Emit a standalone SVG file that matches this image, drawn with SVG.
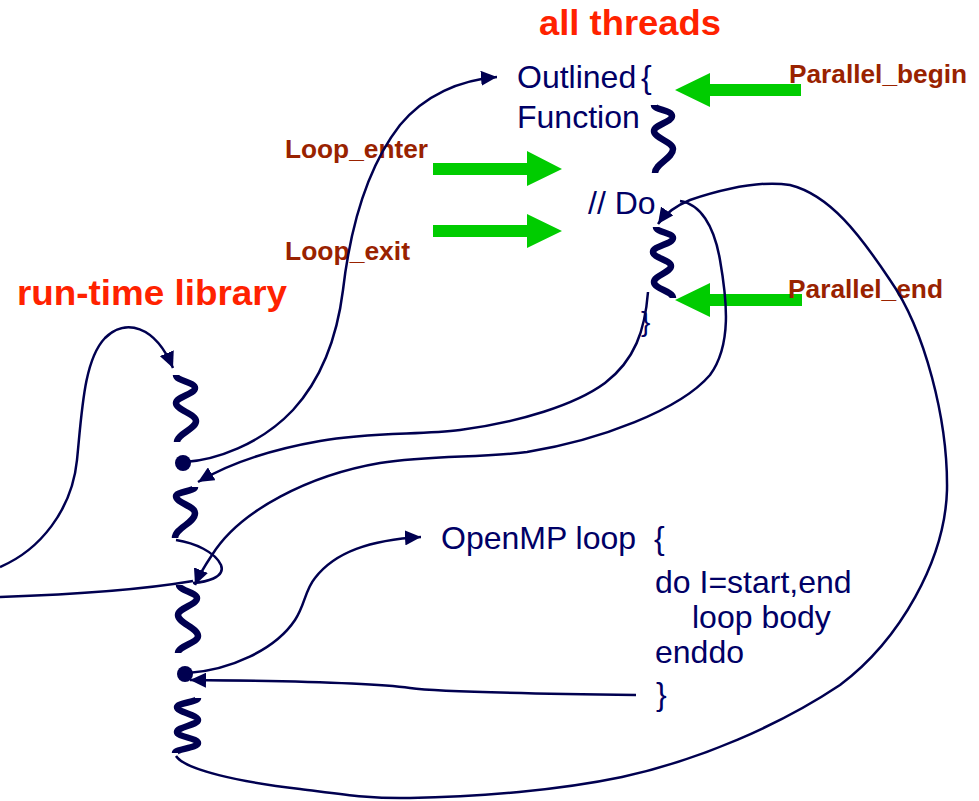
<svg xmlns="http://www.w3.org/2000/svg" width="979" height="801" viewBox="0 0 979 801">
<defs>
<style>
.code{font-family:"Liberation Sans",Arial,sans-serif;font-size:32px;fill:#000066}
.red{font-family:"Liberation Sans",Arial,sans-serif;font-weight:bold;font-size:35px;fill:#ff2200}
.evt{font-family:"Liberation Sans",Arial,sans-serif;font-weight:bold;font-size:26px;fill:#992200}
.sq{fill:none;stroke:#000050;stroke-width:6.5;stroke-linecap:butt;stroke-linejoin:round}
.cn{fill:none;stroke:#000050;stroke-width:2.5}
.ar{marker-end:url(#ah)}
.grn{fill:#00cc00}
.dot{fill:#000050}
</style>
<marker id="ah" markerUnits="userSpaceOnUse" markerWidth="17" markerHeight="15" refX="16" refY="7.5" orient="auto">
<path d="M0,0 L16,7.5 L0,15 z" fill="#000050"/>
</marker>
</defs>
<rect width="979" height="801" fill="#ffffff"/>

<g id="title-all-threads"><text class="red" x="539" y="35" textLength="182" lengthAdjust="spacingAndGlyphs">all threads</text></g>
<g id="title-runtime-library"><text class="red" x="17" y="305" textLength="270" lengthAdjust="spacingAndGlyphs">run-time library</text></g>

<g id="event-arrows">
<polygon class="grn" points="801,84 710,84 710,73 675,90 710,107 710,96 801,96"/>
<polygon class="grn" points="802,294 710,294 710,283 675,300 710,317 710,306 802,306"/>
<polygon class="grn" points="433,163 527,163 527,151 562,169 527,186 527,175 433,175"/>
<polygon class="grn" points="433,225 527,225 527,214 562,231 527,248 527,237 433,237"/>
</g>

<g id="label-parallel-begin"><text class="evt" x="789" y="83" textLength="178" lengthAdjust="spacingAndGlyphs">Parallel_begin</text></g>
<g id="label-parallel-end"><text class="evt" x="788" y="298" textLength="155" lengthAdjust="spacingAndGlyphs">Parallel_end</text></g>
<g id="label-loop-enter"><text class="evt" x="285" y="158" textLength="143" lengthAdjust="spacingAndGlyphs">Loop_enter</text></g>
<g id="label-loop-exit"><text class="evt" x="285" y="260" textLength="125" lengthAdjust="spacingAndGlyphs">Loop_exit</text></g>

<g id="outlined-function">
<text class="code" x="517" y="88">Outlined</text>
<text class="code" x="641" y="88">{</text>
<text class="code" x="517" y="128">Function</text>
<path class="sq" d="M654,105 C654,110 672,110 672,116 C672,122 654,125 654,131 C654,138 673,142 673,149 C673,158 655,164 655,173"/>
</g>

<g id="do-block">
<text class="code" x="588" y="214">// Do</text>
<path class="sq" d="M656,227 C656,232 673,233 673,238 C673,244 653,246 653,252 C653,258 671,260 671,266 C671,272 654,276 654,282 C654,289 673,291 673,298"/>
<text x="641" y="331" style="font-family:'Liberation Sans',Arial,sans-serif;font-size:28px;fill:#000066">}</text>
</g>

<g id="openmp-loop">
<text class="code" x="441" y="549">OpenMP loop</text>
<text class="code" x="654" y="549">{</text>
<text class="code" x="655" y="593">do I=start,end</text>
<text class="code" x="692" y="628">loop body</text>
<text class="code" x="655" y="663">enddo</text>
<text class="code" x="656" y="705">}</text>
</g>

<g id="runtime-library">
<path class="sq" d="M176,375 C176,381 195,382 195,388 C195,394 176,397 176,403 C176,410 196,414 196,421 C196,429 177,434 177,442"/>
<circle class="dot" cx="183" cy="463" r="8"/>
<path class="sq" d="M195,487 C195,491 176,492 176,496 C176,503 195,506 195,513 C195,523 175,528 175,538"/>
<path class="sq" d="M179,585 C179,590 197,593 197,598 C197,605 178,608 178,615 C178,623 198,628 198,636 C198,643 178,646 178,653"/>
<circle class="dot" cx="185" cy="674" r="8"/>
<path class="sq" d="M198,698 C198,702 177,703 177,707 C177,712 198,715 198,720 C198,725 177,727 177,732 C177,737 198,738 198,743 C198,748 175,749 175,753"/>
</g>

<g id="connectors">
<path class="cn ar" d="M185,462 C215,460 260,445 293,410 C325,375 338,330 343,290 C350,230 365,170 400,125 C425,95 460,80 497,77"/>
<path class="cn ar" d="M0,567 C40,550 72,510 77,460 C82,410 84,360 105,338 C125,318 155,325 173,368"/>
<path class="cn" d="M0,597 C60,595 140,590 193,581"/>
<path class="cn ar" d="M680,201 C700,204 714,225 720,260 C727,300 732,345 710,375 C680,410 600,440 527,452 C480,458 430,455 380,463 C310,475 240,510 212,555 C204,567 199,575 195,585"/>
<path class="cn ar" d="M648,292 C645,330 635,360 605,383 C575,405 520,422 460,430 C420,435 370,432 320,441 C280,448 235,460 198,482"/>
<path class="cn" d="M176,540 C195,543 215,552 221,565 C226,578 205,582 193,583"/>
<path class="cn ar" d="M188,673 C230,670 275,650 295,620 C305,605 305,590 315,578 C335,552 370,540 421,537"/>
<path class="cn ar" d="M636,695 C550,694 440,692 410,688 C380,684 300,681 190,680"/>
<path class="cn ar" d="M176,756 C185,770 240,782 300,789 C340,794 370,799 410,798 C480,797 560,790 622,777 C700,760 780,725 840,685 C900,640 945,560 947,490 C948,420 925,330 890,280 C860,235 830,195 790,185 C760,180 720,190 690,200 C675,206 665,214 658,224"/>
</g>
</svg>
